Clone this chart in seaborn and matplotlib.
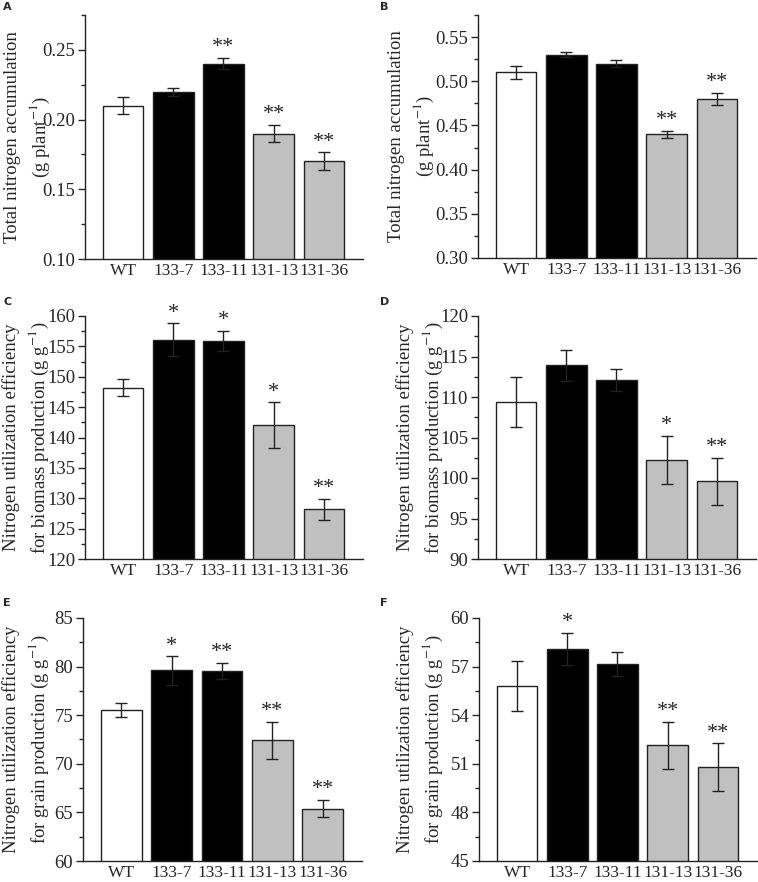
import matplotlib
matplotlib.use("Agg")
import matplotlib.pyplot as plt
import seaborn as sns
import pandas as pd
from matplotlib.ticker import MultipleLocator, AutoMinorLocator, FormatStrFormatter

lines = ["WT", "133-7", "133-11", "131-13", "131-36"]
bar_colors = ["white", "black", "black", "#c0c0c0", "#c0c0c0"]

# panel A: total N accumulation, panel B: second season
tna_a = [0.210, 0.220, 0.240, 0.190, 0.170]
tna_a_err = [0.006, 0.003, 0.004, 0.006, 0.0065]
tna_a_sig = ["", "", "**", "**", "**"]

tna_b = [0.510, 0.530, 0.520, 0.440, 0.480]
tna_b_err = [0.0075, 0.0026, 0.0038, 0.0041, 0.0068]
tna_b_sig = ["", "", "", "**", "**"]

# panels C/D: NUE for biomass
nue_bio_c = [148.2, 156.1, 155.9, 142.0, 128.2]
nue_bio_c_err = [1.4, 2.7, 1.7, 3.8, 1.7]
nue_bio_c_sig = ["", "*", "*", "*", "**"]

nue_bio_d = [109.4, 113.9, 112.1, 102.2, 99.6]
nue_bio_d_err = [3.1, 1.9, 1.3, 3.0, 2.9]
nue_bio_d_sig = ["", "", "", "*", "**"]

# panels E/F: NUE for grain
nue_grain_e = [75.55, 79.6, 79.55, 72.4, 65.4]
nue_grain_e_err = [0.72, 1.45, 0.8, 1.95, 0.9]
nue_grain_e_sig = ["", "*", "**", "**", "**"]

nue_grain_f = [55.8, 58.1, 57.15, 52.15, 50.8]
nue_grain_f_err = [1.56, 1.0, 0.74, 1.46, 1.46]
nue_grain_f_sig = ["", "*", "", "**", "**"]

lab_tna = "Total nitrogen accumulation\n(g plant$^{-1}$)"
lab_bio = "Nitrogen utilization efficiency\nfor biomass production (g g$^{-1}$)"
lab_grain = "Nitrogen utilization efficiency\nfor grain production (g g$^{-1}$)"

sns.set_style("ticks")
plt.rcParams["font.family"] = ["Liberation Serif", "DejaVu Serif"]
plt.rcParams["mathtext.fontset"] = "stix"

W, H = 758, 882
fig = plt.figure(figsize=(W / 100, H / 100), dpi=100)

# letter, values, errors, stars, ylim, major step, ylabel, box px (l, r, t, b), fmt, label offset px, letter xy px
panels = [
    ("A", tna_a, tna_a_err, tna_a_sig, (0.10, 0.275), 0.05, lab_tna, (85, 363, 15, 259), "%.2f", 33, (3, 7)),
    ("B", tna_b, tna_b_err, tna_b_sig, (0.30, 0.575), 0.05, lab_tna, (478, 756, 15, 258), "%.2f", 42, (380, 7)),
    ("C", nue_bio_c, nue_bio_c_err, nue_bio_c_sig, (120, 160), 5, lab_bio, (85, 363, 316, 559), "%d", 34, (3, 302)),
    ("D", nue_bio_d, nue_bio_d_err, nue_bio_d_sig, (90, 120), 5, lab_bio, (478, 756, 316, 559), "%d", 33, (380, 302)),
    ("E", nue_grain_e, nue_grain_e_err, nue_grain_e_sig, (60, 85), 5, lab_grain, (83, 362, 618, 861), "%d", 32, (3, 603)),
    ("F", nue_grain_f, nue_grain_f_err, nue_grain_f_sig, (45, 60), 3, lab_grain, (479, 757, 618, 861), "%d", 34, (380, 603)),
]

for letter, vals, errs, sig, ylim, step, ylab, box, fmt, loff, lxy in panels:
    l, r, t, b = box
    ax = fig.add_axes([l / W, 1 - b / H, (r - l) / W, (b - t) / H])
    df = pd.DataFrame({"line": lines, "value": vals})
    sns.barplot(data=df, x="line", y="value", hue="line", palette=bar_colors,
                width=0.81, edgecolor="#222222", linewidth=1.0, legend=False,
                errorbar=None, ax=ax)
    ax.errorbar(range(len(lines)), vals, yerr=errs, fmt="none", ecolor="#222222",
                elinewidth=1.0, capsize=4, capthick=1.0)
    span = ylim[1] - ylim[0]
    for i, s in enumerate(sig):
        if s:
            ax.text(i, vals[i] + errs[i] + span * 0.003, s, ha="center", va="bottom",
                    fontsize=16)
    ax.set_xlim(-0.76, 4.78)
    ax.set_ylim(*ylim)
    ax.yaxis.set_major_locator(MultipleLocator(step))
    ax.yaxis.set_minor_locator(AutoMinorLocator(2))
    ax.yaxis.set_major_formatter(FormatStrFormatter(fmt))
    ax.set_xlabel("")
    ax.set_ylabel(ylab, fontsize=13.5, linespacing=1.4)
    ax.yaxis.set_label_coords(-loff / (r - l), 0.5)
    sns.despine(ax=ax)
    for sp in ["left", "bottom"]:
        ax.spines[sp].set_linewidth(1.0)
        ax.spines[sp].set_color("#222222")
    ax.tick_params(axis="y", direction="out", length=5, width=1, labelsize=13.5, pad=2)
    ax.tick_params(axis="y", which="minor", direction="out", length=3, width=1)
    ax.tick_params(axis="x", direction="in", length=6, width=1, labelsize=12.5, pad=3)
    fig.text(lxy[0] / W, 1 - lxy[1] / H, letter, fontsize=8, fontweight="bold",
             family="DejaVu Sans", ha="left", va="center")

fig.savefig("out.png", dpi=100)
